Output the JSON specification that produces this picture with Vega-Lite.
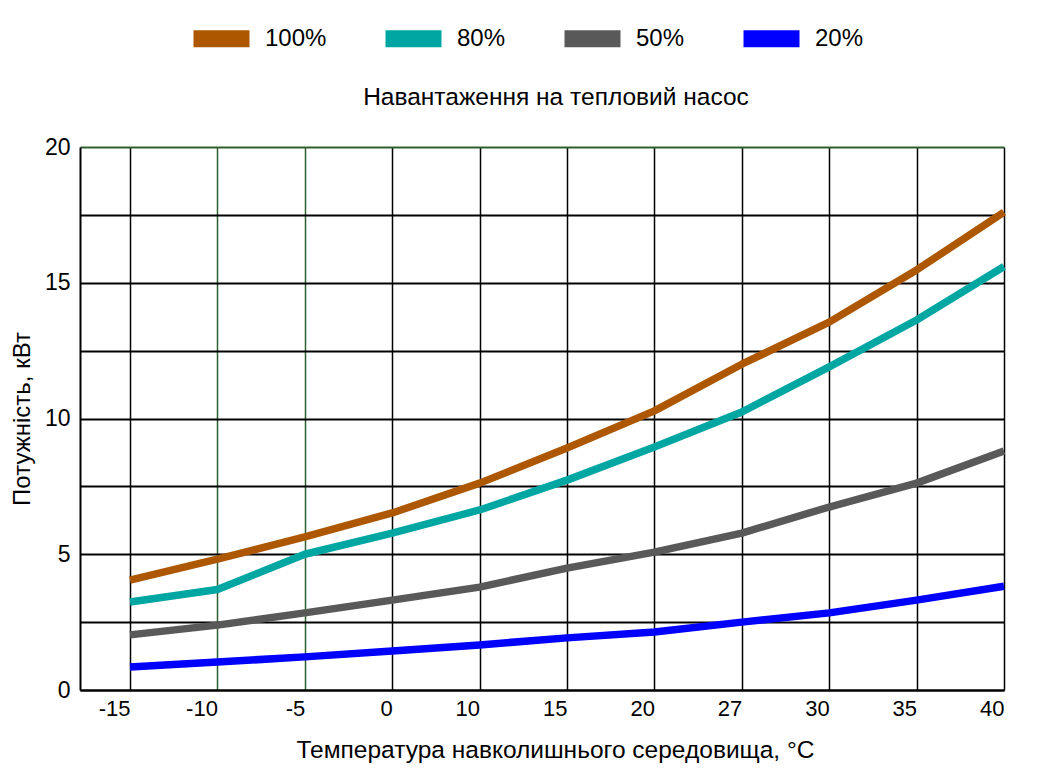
{
  "$schema": "https://vega.github.io/schema/vega-lite/v6.json",
  "width": 924,
  "height": 543,
  "autosize": {"type": "none"},
  "padding": {"left": 80, "top": 147, "right": 51, "bottom": 92},
  "background": "white",
  "title": {
    "text": "Навантаження на тепловий насос",
    "anchor": "middle",
    "dx": 14,
    "dy": 136,
    "offset": 28,
    "font": "Liberation Sans",
    "fontSize": 24.5,
    "fontWeight": "normal",
    "color": "black"
  },
  "data": {
    "values": [
      {"t": "-15", "load": "100%", "p": 4.05},
      {"t": "-10", "load": "100%", "p": 4.82},
      {"t": "-5", "load": "100%", "p": 5.64},
      {"t": "0", "load": "100%", "p": 6.52},
      {"t": "10", "load": "100%", "p": 7.62},
      {"t": "15", "load": "100%", "p": 8.91},
      {"t": "20", "load": "100%", "p": 10.28},
      {"t": "27", "load": "100%", "p": 12.0},
      {"t": "30", "load": "100%", "p": 13.55},
      {"t": "35", "load": "100%", "p": 15.47},
      {"t": "40", "load": "100%", "p": 17.6},
      {"t": "-15", "load": "80%", "p": 3.24},
      {"t": "-10", "load": "80%", "p": 3.7},
      {"t": "-5", "load": "80%", "p": 5.0},
      {"t": "0", "load": "80%", "p": 5.78},
      {"t": "10", "load": "80%", "p": 6.63},
      {"t": "15", "load": "80%", "p": 7.73},
      {"t": "20", "load": "80%", "p": 8.95},
      {"t": "27", "load": "80%", "p": 10.24},
      {"t": "30", "load": "80%", "p": 11.9},
      {"t": "35", "load": "80%", "p": 13.63},
      {"t": "40", "load": "80%", "p": 15.6},
      {"t": "-15", "load": "50%", "p": 2.03},
      {"t": "-10", "load": "50%", "p": 2.39},
      {"t": "-5", "load": "50%", "p": 2.84},
      {"t": "0", "load": "50%", "p": 3.31},
      {"t": "10", "load": "50%", "p": 3.79},
      {"t": "15", "load": "50%", "p": 4.49},
      {"t": "20", "load": "50%", "p": 5.08},
      {"t": "27", "load": "50%", "p": 5.78},
      {"t": "30", "load": "50%", "p": 6.74},
      {"t": "35", "load": "50%", "p": 7.62},
      {"t": "40", "load": "50%", "p": 8.8},
      {"t": "-15", "load": "20%", "p": 0.85},
      {"t": "-10", "load": "20%", "p": 1.03},
      {"t": "-5", "load": "20%", "p": 1.22},
      {"t": "0", "load": "20%", "p": 1.44},
      {"t": "10", "load": "20%", "p": 1.66},
      {"t": "15", "load": "20%", "p": 1.92},
      {"t": "20", "load": "20%", "p": 2.14},
      {"t": "27", "load": "20%", "p": 2.5},
      {"t": "30", "load": "20%", "p": 2.84},
      {"t": "35", "load": "20%", "p": 3.31},
      {"t": "40", "load": "20%", "p": 3.82}
    ]
  },
  "mark": {"type": "line", "strokeWidth": 7.5, "interpolate": "linear", "strokeCap": "butt", "strokeJoin": "round"},
  "encoding": {
    "x": {
      "field": "t",
      "type": "ordinal",
      "sort": ["-15", "-10", "-5", "0", "10", "15", "20", "27", "30", "35", "40"],
      "scale": {"type": "point", "padding": 0.286, "align": 1},
      "axis": {
        "title": "Температура навколишнього середовища, °C",
        "titleFontSize": 24.5,
        "titleFontWeight": "normal",
        "titlePadding": 19,
        "titleX": 475,
        "labelAngle": 0,
        "labelAlign": "right",
        "labelFontSize": 22,
        "labelPadding": 8,
        "ticks": false,
        "grid": true,
        "gridWidth": 1.5,
        "gridColor": {"condition": {"test": "datum.value == '-10' || datum.value == '-5'", "value": "#2f5f2f"}, "value": "black"}
      }
    },
    "y": {
      "field": "p",
      "type": "quantitative",
      "scale": {"domain": [0, 20], "nice": false},
      "axis": {
        "title": "Потужність, кВт",
        "titleFontSize": 24,
        "titleFontWeight": "normal",
        "titlePadding": 10,
        "values": [0, 2.5, 5, 7.5, 10, 12.5, 15, 17.5, 20],
        "labelExpr": "datum.value % 5 == 0 ? datum.label : ''",
        "labelFontSize": 23,
        "labelPadding": 10,
        "labelDy": -6,
        "ticks": false,
        "grid": true,
        "gridWidth": 2,
        "gridColor": {"condition": {"test": "datum.value == 20", "value": "#2f5f2f"}, "value": "black"}
      }
    },
    "color": {
      "field": "load",
      "type": "nominal",
      "sort": ["100%", "80%", "50%", "20%"],
      "scale": {
        "domain": ["100%", "80%", "50%", "20%"],
        "range": ["#ad5700", "#00a6a2", "#595959", "#0000ff"]
      },
      "legend": {
        "title": null,
        "orient": "none",
        "direction": "horizontal",
        "legendX": 105,
        "legendY": -145,
        "symbolType": "stroke",
        "symbolSize": 3136,
        "symbolStrokeWidth": 17,
        "labelFontSize": 24,
        "labelOffset": 7,
        "columnPadding": 24
      }
    }
  },
  "config": {
    "font": "Liberation Sans",
    "view": {"stroke": null},
    "axis": {
      "domainColor": "black",
      "domainWidth": 2,
      "labelColor": "black",
      "titleColor": "black",
      "labelFont": "Liberation Sans",
      "titleFont": "Liberation Sans"
    },
    "legend": {"labelColor": "black", "labelFont": "Liberation Sans"}
  }
}
